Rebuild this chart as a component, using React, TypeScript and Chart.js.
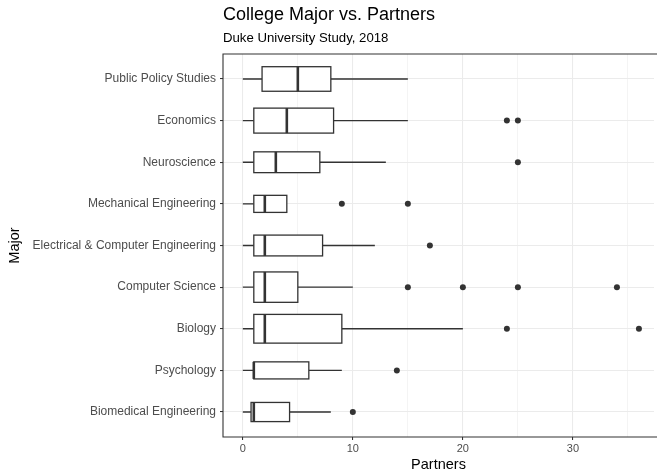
import { useEffect, useRef } from 'react';
import { Chart, registerables } from 'chart.js';

Chart.register(...registerables);

const majors = [
  'Public Policy Studies',
  'Economics',
  'Neuroscience',
  'Mechanical Engineering',
  'Electrical & Computer Engineering',
  'Computer Science',
  'Biology',
  'Psychology',
  'Biomedical Engineering',
];
const whiskerLow = [0, 0, 0, 0, 0, 0, 0, 0, 0];
const q1 = [1.75, 1, 1, 1, 1, 1, 1, 1, 0.75];
const median = [5, 4, 3, 2, 2, 2, 2, 1, 1];
const q3 = [8, 8.25, 7, 4, 7.25, 5, 9, 6, 4.25];
const whiskerHigh = [15, 15, 13, 4, 12, 10, 20, 9, 8];
const boxWidth = [0.59, 0.6, 0.5, 0.41, 0.5, 0.73, 0.69, 0.41, 0.46];
const outliers: number[][] = [[], [24, 25], [25], [9, 15], [17], [15, 20, 25, 34], [24, 36], [14], [10]];
const xTickLabels = [0, 10, 20, 30];

const FONT = "'Liberation Sans', Arial, sans-serif";

const boxPlugin = {
  id: 'boxes',
  beforeDatasetsDraw(chart: any) {
    const { ctx, scales } = chart;
    const x = scales.x;
    const y = scales.y;
    const unit = Math.abs(y.getPixelForValue(1) - y.getPixelForValue(0));
    ctx.save();
    ctx.strokeStyle = '#333333';
    majors.forEach((_, i) => {
      const yc = y.getPixelForValue(i);
      const h = (boxWidth[i] * unit) / 2;
      const xl = x.getPixelForValue(q1[i]);
      const xr = x.getPixelForValue(q3[i]);
      ctx.lineWidth = 1.3;
      ctx.beginPath();
      ctx.moveTo(x.getPixelForValue(whiskerLow[i]), yc);
      ctx.lineTo(xl, yc);
      ctx.moveTo(xr, yc);
      ctx.lineTo(x.getPixelForValue(whiskerHigh[i]), yc);
      ctx.stroke();
      ctx.fillStyle = '#ffffff';
      ctx.fillRect(xl, yc - h, xr - xl, 2 * h);
      ctx.strokeRect(xl, yc - h, xr - xl, 2 * h);
      ctx.lineWidth = 2.6;
      const xm = x.getPixelForValue(median[i]);
      ctx.beginPath();
      ctx.moveTo(xm, yc - h);
      ctx.lineTo(xm, yc + h);
      ctx.stroke();
    });
    ctx.restore();
  },
  afterDatasetsDraw(chart: any) {
    const { ctx, chartArea } = chart;
    ctx.save();
    ctx.strokeStyle = '#333333';
    ctx.lineWidth = 1.1;
    ctx.beginPath();
    ctx.moveTo(chartArea.right + 5, chartArea.top);
    ctx.lineTo(chartArea.left, chartArea.top);
    ctx.lineTo(chartArea.left, chartArea.bottom);
    ctx.lineTo(chartArea.right + 5, chartArea.bottom);
    ctx.stroke();
    ctx.restore();
  },
};

export default function App() {
  const ref = useRef<HTMLCanvasElement>(null);
  useEffect(() => {
    if (!ref.current) return;
    const points = outliers.flatMap((arr, i) => arr.map((v) => ({ x: v, y: i })));
    const chart = new Chart(ref.current, {
      type: 'scatter',
      data: {
        datasets: [
          {
            data: points,
            pointRadius: 3,
            pointBackgroundColor: '#333333',
            pointBorderWidth: 0,
            pointHoverRadius: 3,
          },
        ],
      },
      plugins: [boxPlugin],
      options: {
        animation: false,
        responsive: false,
        devicePixelRatio: 1,
        layout: { padding: 0 },
        plugins: {
          legend: { display: false },
          tooltip: { enabled: false },
          title: {
            display: true,
            text: 'College Major vs. Partners',
            align: 'start',
            fullSize: false,
            color: '#000000',
            font: { family: FONT, size: 18, weight: 'normal', lineHeight: 1.2 },
            padding: { top: 4.2, bottom: 2 },
          },
          subtitle: {
            display: true,
            text: 'Duke University Study, 2018',
            align: 'start',
            fullSize: false,
            color: '#000000',
            font: { family: FONT, size: 13.2, weight: 'normal', lineHeight: 1.2 },
            padding: { top: 2.58, bottom: 7.78 },
          },
        },
        scales: {
          x: {
            type: 'linear',
            min: -1.8,
            max: 37.37,
            afterFit: (s: any) => {
              s.height = 35;
            },
            ticks: {
              stepSize: 5,
              includeBounds: false,
              autoSkip: false,
              maxRotation: 0,
              color: '#4d4d4d',
              font: { family: FONT, size: 11 },
              padding: 2,
              callback: (v: any) => (xTickLabels.includes(Number(v)) ? String(v) : ''),
            },
            grid: {
              color: '#ebebeb',
              lineWidth: (c: any) => (c.tick && xTickLabels.includes(c.tick.value) ? 1.07 : 0.53),
              tickColor: (c: any) => (c.tick && xTickLabels.includes(c.tick.value) ? '#333333' : 'rgba(0,0,0,0)'),
              tickLength: 3,
              tickWidth: 1.07,
            },
            border: { display: false },
            title: {
              display: true,
              text: 'Partners',
              color: '#000000',
              font: { family: FONT, size: 14.5, lineHeight: 1 },
              padding: { top: 0, bottom: 0 },
            },
          },
          y: {
            type: 'linear',
            min: -0.6,
            max: 8.6,
            reverse: true,
            afterFit: (s: any) => {
              s.width = 223;
            },
            afterBuildTicks: (s: any) => {
              s.ticks = majors.map((_, i) => ({ value: i }));
            },
            ticks: {
              autoSkip: false,
              color: '#4d4d4d',
              font: { family: FONT, size: 12 },
              padding: 4,
              callback: (v: any) => majors[Number(v)] ?? '',
            },
            grid: {
              color: '#ebebeb',
              lineWidth: 1.07,
              tickColor: '#333333',
              tickLength: 3,
              tickWidth: 1.07,
            },
            border: { display: false },
            title: {
              display: true,
              text: 'Major',
              color: '#000000',
              font: { family: FONT, size: 14.5, lineHeight: 1.2 },
              padding: { top: 6, bottom: 0 },
            },
          },
        },
      },
    } as any);
    return () => chart.destroy();
  }, []);
  return (
    <div style={{ position: 'absolute', left: 0, top: 0, width: 657, height: 472 }}>
      <canvas ref={ref} width={657} height={472} style={{ display: 'block' }} />
    </div>
  );
}
